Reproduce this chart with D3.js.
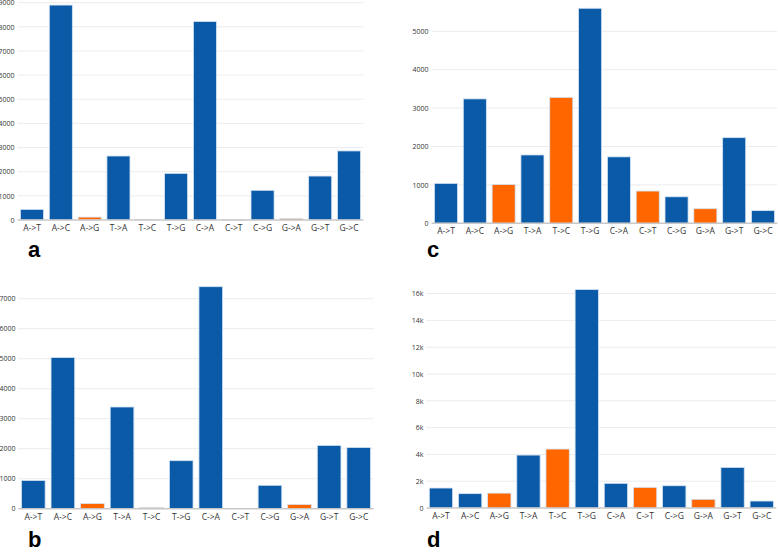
<!DOCTYPE html>
<html>
<head>
<meta charset="utf-8">
<script src="https://cdn.jsdelivr.net/npm/d3@7"></script>
<style>
  body { margin: 0; background: #fff; }
  svg { display: block; }
</style>
</head>
<body>
<script>
const width = 778;
const height = 552;

// mutation types, same order in every panel
const categories = ["A->T", "A->C", "A->G", "T->A", "T->C", "T->G", "C->A", "C->T", "C->G", "G->A", "G->T", "G->C"];
// transitions are drawn orange, transversions blue
const transitions = ["A->G", "T->C", "C->T", "G->A"];

const valuesA = [440, 8900, 120, 2650, 15, 1930, 8220, 10, 1230, 60, 1820, 2860];
const valuesB = [940, 5040, 170, 3390, 40, 1600, 7400, 10, 780, 140, 2110, 2040];
const valuesC = [1040, 3240, 1010, 1780, 3280, 5600, 1730, 840, 690, 380, 2230, 330];
const valuesD = [1490, 1070, 1110, 3950, 4400, 16300, 1840, 1540, 1660, 650, 3030, 520];

const ticksA = [0, 1000, 2000, 3000, 4000, 5000, 6000, 7000, 8000, 9000];
const ticksB = [0, 1000, 2000, 3000, 4000, 5000, 6000, 7000];
const ticksC = [0, 1000, 2000, 3000, 4000, 5000];
const ticksD = [0, 2000, 4000, 6000, 8000, 10000, 12000, 14000, 16000];

const blue = "#0b5aa7";
const orange = "#ff6600";

let svg = d3
    .select("body")
    .append("svg")
    .attr("width", width)
    .attr("height", height)

function panel(values, ticks, fmt, x0, x1, yBase, yTop, yMax, label, lx, ly) {
    let g = svg.append("g");

    let x = d3.scaleBand()
        .domain(categories)
        .range([x0, x1])
        .paddingInner(0.2)
        .paddingOuter(0.1);

    let y = d3.scaleLinear()
        .domain([0, yMax])
        .range([yBase, yTop]);

    // light horizontal grid
    g.selectAll("line.grid")
        .data(ticks.filter(t => t > 0))
        .join("line")
        .attr("class", "grid")
        .attr("x1", x0)
        .attr("x2", x1)
        .attr("y1", d => y(d))
        .attr("y2", d => y(d))
        .attr("stroke", "#ececec")
        .attr("stroke-width", 1);

    g.selectAll("rect")
        .data(values)
        .join("rect")
        .attr("x", (d, i) => x(categories[i]))
        .attr("width", x.bandwidth())
        .attr("y", d => y(d))
        .attr("height", d => yBase - y(d))
        .attr("fill", (d, i) => transitions.includes(categories[i]) ? orange : blue)
        .attr("stroke", "#d4e3f3")
        .attr("stroke-width", 0.8);

    // y axis labels only, no line
    let yAxis = d3.axisLeft(y).tickValues(ticks).tickSize(0).tickPadding(3).tickFormat(fmt);
    g.append("g")
        .attr("transform", `translate(${x0},0)`)
        .call(yAxis)
        .call(a => a.select(".domain").remove())
        .selectAll("text")
        .attr("font-family", "Open Sans")
        .attr("font-size", 7)
        .attr("fill", "#333");

    // x axis
    let xAxis = d3.axisBottom(x).tickSize(0).tickPadding(5);
    g.append("g")
        .attr("transform", `translate(0,${yBase})`)
        .call(xAxis)
        .call(a => a.select(".domain").attr("stroke", "#c8c8c8").attr("stroke-width", 1.5)
            .attr("d", `M${x0},0H${x1}`))
        .selectAll("text")
        .attr("font-family", "Open Sans")
        .attr("font-size", 8.5)
        .attr("fill", "#333");

    g.append("text")
        .attr("x", lx)
        .attr("y", ly)
        .attr("font-family", "Liberation Sans")
        .attr("font-weight", "bold")
        .attr("font-size", 22)
        .attr("fill", "#000")
        .text(label);
}

const plain = d3.format("d");
const kilo = d => d === 0 ? "0" : (d / 1000) + "k";

panel(valuesA, ticksA, plain, 17.6, 363.4, 220, 0, 9110, "a", 28, 257);
panel(valuesC, ticksC, plain, 431.6, 777.4, 223.3, 5, 5685, "c", 427, 257);
panel(valuesB, ticksB, plain, 18.5, 373.5, 508.7, 280, 7623, "b", 28, 547);
panel(valuesD, ticksD, kilo, 426.4, 776.3, 508, 285, 16642, "d", 427, 547);
</script>
</body>
</html>
